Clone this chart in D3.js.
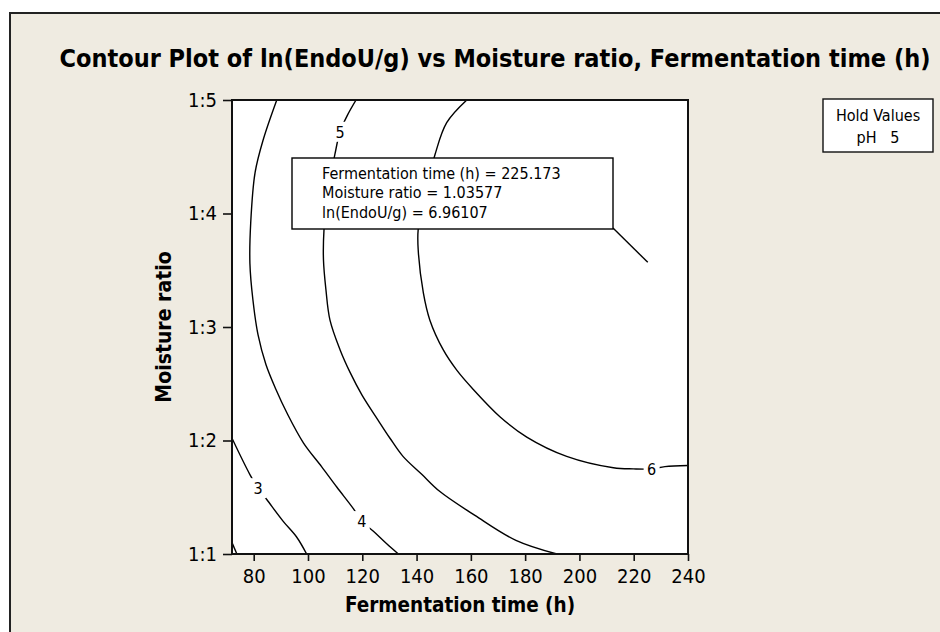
<!DOCTYPE html>
<html>
<head>
<meta charset="utf-8">
<script src="https://cdn.jsdelivr.net/npm/d3@7/dist/d3.min.js"></script>
<style>
  body { margin: 0; background: #fff; }
  svg { display: block; }
  text { font-family: "DejaVu Sans Condensed", "Liberation Sans", sans-serif; fill: #000; }
  .bold { font-weight: bold; }
</style>
</head>
<body>
<div id="chart"></div>
<script>
var width = 940
var height = 632

// axis ranges and ticks
var timeDomain = [72, 240]
var moistDomain = [1, 5]
var xTicks = [80, 100, 120, 140, 160, 180, 200, 220, 240]
var yTicks = [1, 2, 3, 4, 5]
var yTickLabels = ["1:1", "1:2", "1:3", "1:4", "1:5"]

// contour lines, [time, moisture]
var contour2 = [[72, 1.10], [73.8, 1.0]]
var contour3 = [[72, 2.02], [78.6, 1.70], [81.6, 1.58], [84.8, 1.48], [90.8, 1.29], [95.8, 1.15], [99.5, 1.0]]
var contour4 = [[88.5, 5.0], [83.5, 4.65], [80.5, 4.36], [78.9, 3.92], [78.6, 3.56], [79.7, 3.24],
  [81.6, 2.93], [84.5, 2.67], [88.2, 2.45], [92.3, 2.24], [98.3, 1.98], [105.0, 1.77], [110.6, 1.59],
  [116.7, 1.40], [119.8, 1.29], [124.1, 1.20], [129.0, 1.09], [133.3, 1.0]]
var contour5 = [[117.7, 5.0], [114.4, 4.86], [111.8, 4.72], [109.9, 4.52], [107.4, 4.21], [105.9, 3.86],
  [105.7, 3.59], [106.6, 3.33], [108.1, 3.06], [111.8, 2.80], [115.5, 2.60], [119.9, 2.40],
  [125.8, 2.18], [130.2, 2.02], [135.0, 1.86], [142.0, 1.70], [148.6, 1.55], [161.5, 1.34],
  [176.6, 1.12], [191.7, 1.0]]
var contour6 = [[158.5, 5.0], [151.1, 4.80], [146.8, 4.52], [143.5, 4.21], [140.6, 3.86], [140.6, 3.68],
  [142.5, 3.30], [144.9, 3.06], [149.8, 2.80], [154.8, 2.62], [160.9, 2.45], [170.7, 2.21],
  [180.6, 2.03], [195.3, 1.86], [212.5, 1.76], [219.9, 1.75], [226.6, 1.75], [231.5, 1.77], [240, 1.78]]
var contourLines = [contour2, contour3, contour4, contour5, contour6]

// contour labels: level, time, moisture
var labelLevels = ["3", "4", "5", "6"]
var labelTime = [81.6, 119.8, 111.8, 226.6]
var labelMoist = [1.58, 1.29, 4.72, 1.75]

// crosshair readout
var readTime = 225.173
var readMoist = 3.57
var readLines = ["Fermentation time (h) = 225.173", "Moisture ratio = 1.03577", "ln(EndoU/g) = 6.96107"]
var holdLines = ["Hold Values", "pH\u00a0\u00a0\u00a05"]

var svg = d3.select("#chart").append("svg")
  .attr("width", width)
  .attr("height", height)

// outer frame
svg.append("rect")
  .attr("x", 10).attr("y", 13)
  .attr("width", width).attr("height", height)
  .attr("fill", "#efebe1")
  .attr("stroke", "#222").attr("stroke-width", 2)

var x = d3.scaleLinear().domain(timeDomain).range([232, 688])
var y = d3.scaleLinear().domain(moistDomain).range([554, 100])

svg.append("text")
  .attr("class", "bold")
  .attr("x", 495).attr("y", 67)
  .attr("text-anchor", "middle")
  .style("font-size", "25px")
  .text("Contour Plot of ln(EndoU/g) vs Moisture ratio, Fermentation time (h)")

svg.append("rect")
  .attr("x", x(timeDomain[0])).attr("y", y(moistDomain[1]))
  .attr("width", x(timeDomain[1]) - x(timeDomain[0]))
  .attr("height", y(moistDomain[0]) - y(moistDomain[1]))
  .attr("fill", "#fff")

svg.append("clipPath").attr("id", "clip")
  .append("rect")
  .attr("x", x(timeDomain[0])).attr("y", y(moistDomain[1]))
  .attr("width", x(timeDomain[1]) - x(timeDomain[0]))
  .attr("height", y(moistDomain[0]) - y(moistDomain[1]))

var line = d3.line()
  .x(function(d) { return x(d[0]) })
  .y(function(d) { return y(d[1]) })
  .curve(d3.curveCatmullRom.alpha(0.5))

var plot = svg.append("g").attr("clip-path", "url(#clip)")

plot.selectAll("path.contour")
  .data(contourLines)
  .enter().append("path")
  .attr("class", "contour")
  .attr("d", line)
  .attr("fill", "none")
  .attr("stroke", "#000")
  .attr("stroke-width", 1.4)

var labels = plot.selectAll("g.clabel")
  .data(labelLevels)
  .enter().append("g")
  .attr("class", "clabel")
  .attr("transform", function(d, i) { return "translate(" + x(labelTime[i]) + "," + y(labelMoist[i]) + ")" })

labels.append("rect")
  .attr("x", -8).attr("y", -10)
  .attr("width", 16).attr("height", 20)
  .attr("fill", "#fff")

labels.append("text")
  .attr("text-anchor", "middle")
  .attr("dy", "0.36em")
  .style("font-size", "16px")
  .text(function(d) { return d })

// readout box with leader line
plot.append("line")
  .attr("x1", 613).attr("y1", 228)
  .attr("x2", x(readTime)).attr("y2", y(readMoist))
  .attr("stroke", "#000").attr("stroke-width", 1.4)

plot.append("rect")
  .attr("x", 292).attr("y", 158)
  .attr("width", 321).attr("height", 71)
  .attr("fill", "#fff")
  .attr("stroke", "#000").attr("stroke-width", 1.4)

plot.selectAll("text.read")
  .data(readLines)
  .enter().append("text")
  .attr("class", "read")
  .attr("x", 322)
  .attr("y", function(d, i) { return 179 + i * 19.3 })
  .style("font-size", "16px")
  .text(function(d) { return d })

// plot frame
svg.append("rect")
  .attr("x", x(timeDomain[0])).attr("y", y(moistDomain[1]))
  .attr("width", x(timeDomain[1]) - x(timeDomain[0]))
  .attr("height", y(moistDomain[0]) - y(moistDomain[1]))
  .attr("fill", "none")
  .attr("stroke", "#111").attr("stroke-width", 2)

var xAxis = svg.append("g")
  .attr("transform", "translate(0," + y(moistDomain[0]) + ")")
  .call(d3.axisBottom(x).tickValues(xTicks).tickSize(7).tickPadding(8).tickSizeOuter(0))
xAxis.select(".domain").remove()

var yAxis = svg.append("g")
  .attr("transform", "translate(" + x(timeDomain[0]) + ",0)")
  .call(d3.axisLeft(y).tickValues(yTicks).tickSize(9).tickPadding(6).tickSizeOuter(0)
    .tickFormat(function(d, i) { return yTickLabels[i] }))
yAxis.select(".domain").remove()

svg.selectAll(".tick line").attr("stroke", "#111").attr("stroke-width", 1.6)
svg.selectAll(".tick text")
  .attr("fill", "#000")
  .style("font-family", "\"DejaVu Sans Condensed\", \"Liberation Sans\", sans-serif")
  .style("font-size", "20px")

svg.append("text")
  .attr("class", "bold")
  .attr("x", (x(timeDomain[0]) + x(timeDomain[1])) / 2).attr("y", 612)
  .attr("text-anchor", "middle")
  .style("font-size", "20.5px")
  .text("Fermentation time (h)")

svg.append("text")
  .attr("class", "bold")
  .attr("transform", "translate(171," + (y(moistDomain[0]) + y(moistDomain[1])) / 2 + ") rotate(-90)")
  .attr("text-anchor", "middle")
  .style("font-size", "21px")
  .text("Moisture ratio")

// hold values box
svg.append("rect")
  .attr("x", 823).attr("y", 99)
  .attr("width", 110).attr("height", 53)
  .attr("fill", "#fff")
  .attr("stroke", "#111").attr("stroke-width", 1.4)

svg.selectAll("text.hold")
  .data(holdLines)
  .enter().append("text")
  .attr("class", "hold")
  .attr("x", 878)
  .attr("y", function(d, i) { return 121 + i * 22 })
  .attr("text-anchor", "middle")
  .style("font-size", "16px")
  .text(function(d) { return d })
</script>
</body>
</html>
